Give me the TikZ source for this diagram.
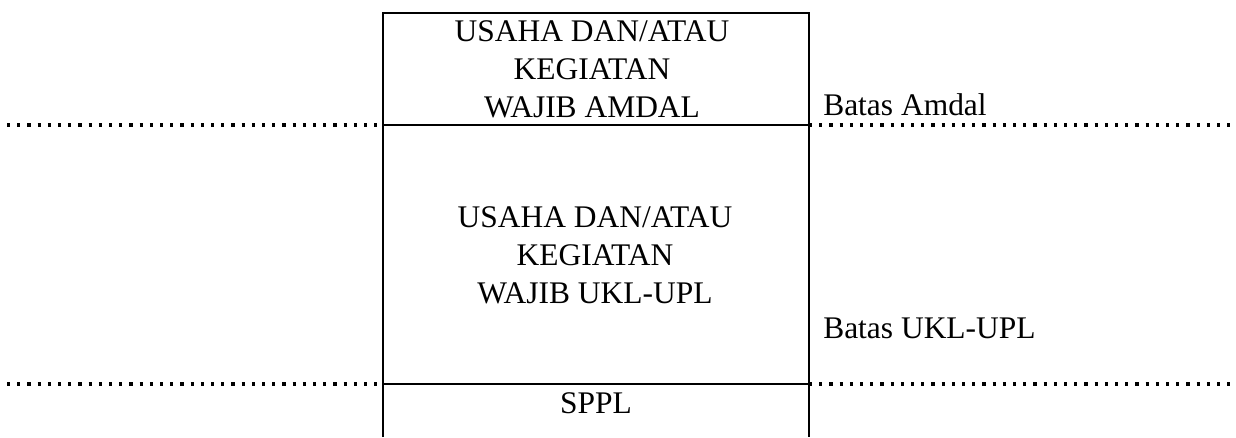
\documentclass[tikz,border=0pt]{standalone}
\usepackage{fontspec}
\setmainfont{Liberation Serif}
\tikzset{
  boxline/.style={line width=1.5pt, black},
  bound/.style={line width=3pt, black, dash pattern=on 2.4pt off 5.25pt},
  lbl/.style={inner sep=0pt, font=\fontsize{23.6}{28.4}\selectfont},
}
\begin{document}
\begin{tikzpicture}[x=0.75pt,y=-0.75pt]
\useasboundingbox (0,0) rectangle (1236,437);
% box corners
\coordinate (tl) at (383,13);
\coordinate (tr) at (809,13);
\coordinate (ml) at (383,125);
\coordinate (mr) at (809,125);
\coordinate (bl) at (383,384);
\coordinate (br) at (809,384);
\coordinate (el) at (383,437);
\coordinate (er) at (809,437);
\coordinate (d1l) at (7,125);
\coordinate (d1r) at (1236,125);
\coordinate (d2l) at (7,384);
\coordinate (d2r) at (1236,384);
\draw[boxline] (el) -- (tl) -- (tr) -- (er);
\draw[boxline] (ml) -- (mr);
\draw[boxline] (bl) -- (br);
\draw[bound] (d1l) -- (ml);
\draw[bound] (mr) -- (d1r);
\draw[bound] (d2l) -- (bl);
\draw[bound] (br) -- (d2r);
\node[lbl, align=center, anchor=base] (amdal) at (592,117) {USAHA DAN/ATAU\\KEGIATAN\\WAJIB AMDAL};
\node[lbl, align=center, anchor=base] (ukl) at (595,303) {USAHA DAN/ATAU\\KEGIATAN\\WAJIB UKL-UPL};
\node[lbl, anchor=base] (sppl) at (596,413) {SPPL};
\node[lbl, anchor=base west] (bamdal) at (823,115) {Batas Amdal};
\node[lbl, anchor=base west] (bukl) at (823,338) {Batas UKL-UPL};
\end{tikzpicture}
\end{document}
